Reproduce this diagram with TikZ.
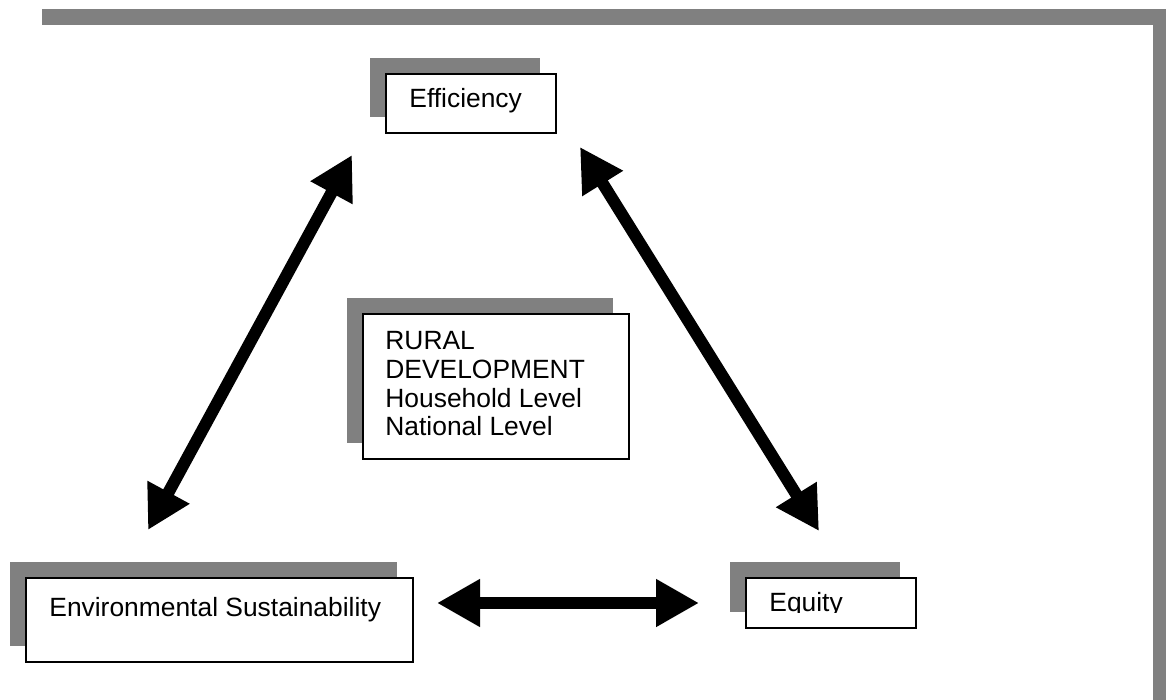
\documentclass[tikz,border=0pt]{standalone}
\usepackage{fontspec}
\setmainfont{Liberation Sans}
\usetikzlibrary{calc}
\usetikzlibrary{positioning}
\usetikzlibrary{arrows.meta}
\usetikzlibrary{shadows}

\definecolor{barGray}{RGB}{128,128,128}

\tikzset{
  panel/.style={draw=black, line width=1.2pt, fill=white, anchor=north west,
    inner sep=0pt,
    general shadow={fill=barGray, shadow xshift=-8pt, shadow yshift=8pt}},
  caption/.style={inner sep=0pt, align=left,
    font=\fontsize{13.2}{14.4}\selectfont},
  link/.style={line width=6pt,
    {Triangle[length=21.5pt,width=22.5pt]}-{Triangle[length=21.5pt,width=22.5pt]}},
}

\begin{document}
\begin{tikzpicture}[%
  x=0.5pt, y=-0.5pt,
]

  \useasboundingbox (0,0) rectangle (1166,700);

  % page frame
  \fill[barGray] (42,9) rectangle (1166,25);
  \fill[barGray] (1153,9) rectangle (1166,700);

  % boxes
  \node[panel, minimum width=85pt, minimum height=29.5pt] (eff) at (385,73) {};
  \node[panel, minimum width=133pt, minimum height=72.5pt] (rural) at (362,313) {};
  \node[panel, minimum width=193.5pt, minimum height=42pt] (env) at (25,577) {};
  \node[panel, minimum width=85pt, minimum height=25pt] (equ) at (745,577) {};

  \node[caption, below right=7.5pt and 12pt of eff.north west] (effText) {Efficiency};
  \node[caption, below right=9pt and 11.5pt of rural.north west] (ruralText)
    {RURAL\\DEVELOPMENT\\Household Level\\National Level};
  \node[caption, below right=10pt and 12pt of env.north west] (envText)
    {Environmental Sustainability};
  \begin{scope}
    \clip (equ.north west) rectangle ($(equ.south east)+(0,-17)$);
    \node[caption, below right=7.5pt and 12pt of equ.north west] (equText) {Equity};
  \end{scope}

  % arrow ends
  \coordinate (effL) at (352,155);
  \coordinate (effR) at (580,147);
  \coordinate (envT) at (148,530);
  \coordinate (equT) at (819,531);
  \coordinate (envR) at (437,603);
  \coordinate (equL) at (699,603);

  \draw[link] (envT) -- (effL);
  \draw[link] (effR) -- (equT);
  \draw[link] (envR) -- (equL);

\end{tikzpicture}
\end{document}
